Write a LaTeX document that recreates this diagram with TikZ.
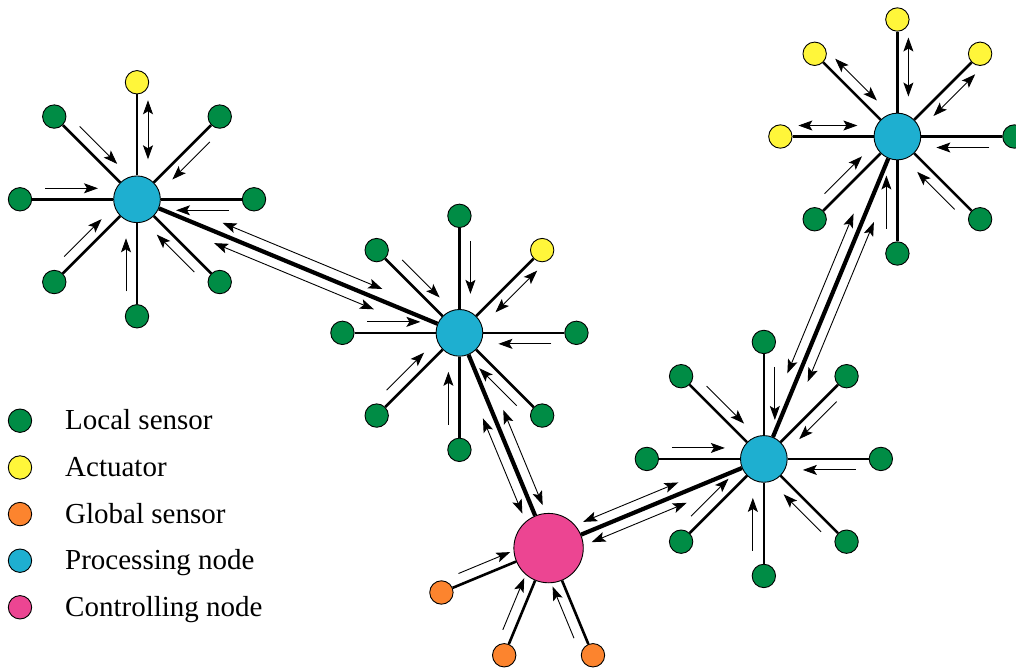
\documentclass[tikz,border=0pt]{standalone}
\usepackage{fontspec}
\setmainfont{Liberation Serif}
\usetikzlibrary{arrows.meta,calc}
\definecolor{sensorgreen}{RGB}{0,140,69}
\definecolor{actyellow}{RGB}{255,246,58}
\definecolor{globalorange}{RGB}{252,132,46}
\definecolor{procblue}{RGB}{30,175,208}
\definecolor{ctrlpink}{RGB}{236,69,146}
\begin{document}
\begin{tikzpicture}[x=1pt,y=1pt,
  every node/.style={font=\fontsize{29}{35}\selectfont},
  >={Stealth[length=14pt,width=10pt,inset=3pt]},
  leaf/.style={circle, draw, line width=0.9pt, minimum size=23.4pt, inner sep=0pt},
  proc/.style={circle, draw, line width=0.9pt, fill=procblue, minimum size=46.7pt, inner sep=0pt},
  ctrl/.style={circle, draw, line width=0.9pt, fill=ctrlpink, minimum size=69.4pt, inner sep=0pt},
  spoke/.style={line width=2.6pt},
  link/.style={line width=4.2pt},
  flow/.style={line width=0.9pt}]
\useasboundingbox (0,0) rectangle (1016,668);

% processing nodes and the controlling node
\node[proc] (p1) at (137,468.7) {};
\node[proc] (p2) at ($(p1)+(-22.5:349)$) {};
\node[ctrl] (ctrl) at ($(p2)+(-67.5:233)$) {};
\node[proc] (p3) at ($(ctrl)+(22.5:233)$) {};
\node[proc] (p4) at ($(p3)+(67.5:349)$) {};

% local sensors and actuators
\foreach \a in {0,45,135,180,225,270,315} {
  \node[leaf, fill=sensorgreen] (p1-\a) at ($(p1)+(\a:117)$) {};
  \draw[spoke] (p1) -- (p1-\a);
  \draw[flow,->] ($(p1)+(\a:92)+({\a-90}:11)$) -- ($(p1)+(\a:39)+({\a-90}:11)$);
}
\foreach \a in {90} {
  \node[leaf, fill=actyellow] (p1-\a) at ($(p1)+(\a:117)$) {};
  \draw[spoke] (p1) -- (p1-\a);
  \draw[flow,<->] ($(p1)+(\a:99)+({\a-90}:11)$) -- ($(p1)+(\a:40)+({\a-90}:11)$);
}
\foreach \a in {0,90,135,180,225,270,315} {
  \node[leaf, fill=sensorgreen] (p2-\a) at ($(p2)+(\a:117)$) {};
  \draw[spoke] (p2) -- (p2-\a);
  \draw[flow,->] ($(p2)+(\a:92)+({\a-90}:11)$) -- ($(p2)+(\a:39)+({\a-90}:11)$);
}
\foreach \a in {45} {
  \node[leaf, fill=actyellow] (p2-\a) at ($(p2)+(\a:117)$) {};
  \draw[spoke] (p2) -- (p2-\a);
  \draw[flow,<->] ($(p2)+(\a:99)+({\a-90}:11)$) -- ($(p2)+(\a:40)+({\a-90}:11)$);
}
\foreach \a in {0,45,90,135,180,225,270,315} {
  \node[leaf, fill=sensorgreen] (p3-\a) at ($(p3)+(\a:117)$) {};
  \draw[spoke] (p3) -- (p3-\a);
  \draw[flow,->] ($(p3)+(\a:92)+({\a-90}:11)$) -- ($(p3)+(\a:39)+({\a-90}:11)$);
}
\foreach \a in {0,225,270,315} {
  \node[leaf, fill=sensorgreen] (p4-\a) at ($(p4)+(\a:117)$) {};
  \draw[spoke] (p4) -- (p4-\a);
  \draw[flow,->] ($(p4)+(\a:92)+({\a-90}:11)$) -- ($(p4)+(\a:39)+({\a-90}:11)$);
}
\foreach \a in {45,90,135,180} {
  \node[leaf, fill=actyellow] (p4-\a) at ($(p4)+(\a:117)$) {};
  \draw[spoke] (p4) -- (p4-\a);
  \draw[flow,<->] ($(p4)+(\a:99)+({\a-90}:11)$) -- ($(p4)+(\a:40)+({\a-90}:11)$);
}

% global sensors
\foreach \a [count=\i] in {202.5,247.5,292.5} {
  \node[leaf, fill=globalorange] (g\i) at ($(ctrl)+(\a:116)$) {};
  \draw[spoke] (ctrl) -- (g\i);
  \draw[flow,->] ($(ctrl)+(\a:93)+({\a-90}:11)$) -- ($(ctrl)+(\a:37)+({\a-90}:11)$);
}

% links between processing and controlling nodes
\draw[link] (p1) -- (p2);
\draw[flow,<->] ($(p1)!88pt!(p2)!11pt!90:(p2)$) -- ($(p2)!88pt!(p1)!11pt!-90:(p1)$);
\draw[flow,<->] ($(p1)!88pt!(p2)!11pt!-90:(p2)$) -- ($(p2)!88pt!(p1)!11pt!90:(p1)$);
\draw[link] (p2) -- (ctrl);
\draw[flow,<->] ($(p2)!88pt!(ctrl)!11pt!90:(ctrl)$) -- ($(ctrl)!42pt!(p2)!11pt!-90:(p2)$);
\draw[flow,<->] ($(p2)!88pt!(ctrl)!11pt!-90:(ctrl)$) -- ($(ctrl)!42pt!(p2)!11pt!90:(p2)$);
\draw[link] (ctrl) -- (p3);
\draw[flow,<->] ($(ctrl)!42pt!(p3)!11pt!90:(p3)$) -- ($(p3)!88pt!(ctrl)!11pt!-90:(ctrl)$);
\draw[flow,<->] ($(ctrl)!42pt!(p3)!11pt!-90:(p3)$) -- ($(p3)!88pt!(ctrl)!11pt!90:(ctrl)$);
\draw[link] (p3) -- (p4);
\draw[flow,<->] ($(p3)!88pt!(p4)!11pt!90:(p4)$) -- ($(p4)!88pt!(p3)!11pt!-90:(p3)$);
\draw[flow,<->] ($(p3)!88pt!(p4)!11pt!-90:(p4)$) -- ($(p4)!88pt!(p3)!11pt!90:(p3)$);

% legend
\node[leaf, fill=sensorgreen] (leg1) at (20,247.3) {};
\node[leaf, fill=actyellow] (leg2) at (20,200.5) {};
\node[leaf, fill=globalorange] (leg3) at (20,153.9) {};
\node[leaf, fill=procblue] (leg4) at (20,107.3) {};
\node[leaf, fill=ctrlpink] (leg5) at (20,60.7) {};
\node[anchor=base west, inner sep=0pt] (legtxt1) at (65,238) {Local sensor};
\node[anchor=base west, inner sep=0pt] (legtxt2) at (65,191.2) {Actuator};
\node[anchor=base west, inner sep=0pt] (legtxt3) at (65,144.6) {Global sensor};
\node[anchor=base west, inner sep=0pt] (legtxt4) at (65,98) {Processing node};
\node[anchor=base west, inner sep=0pt] (legtxt5) at (65,51.4) {Controlling node};
\end{tikzpicture}
\end{document}
